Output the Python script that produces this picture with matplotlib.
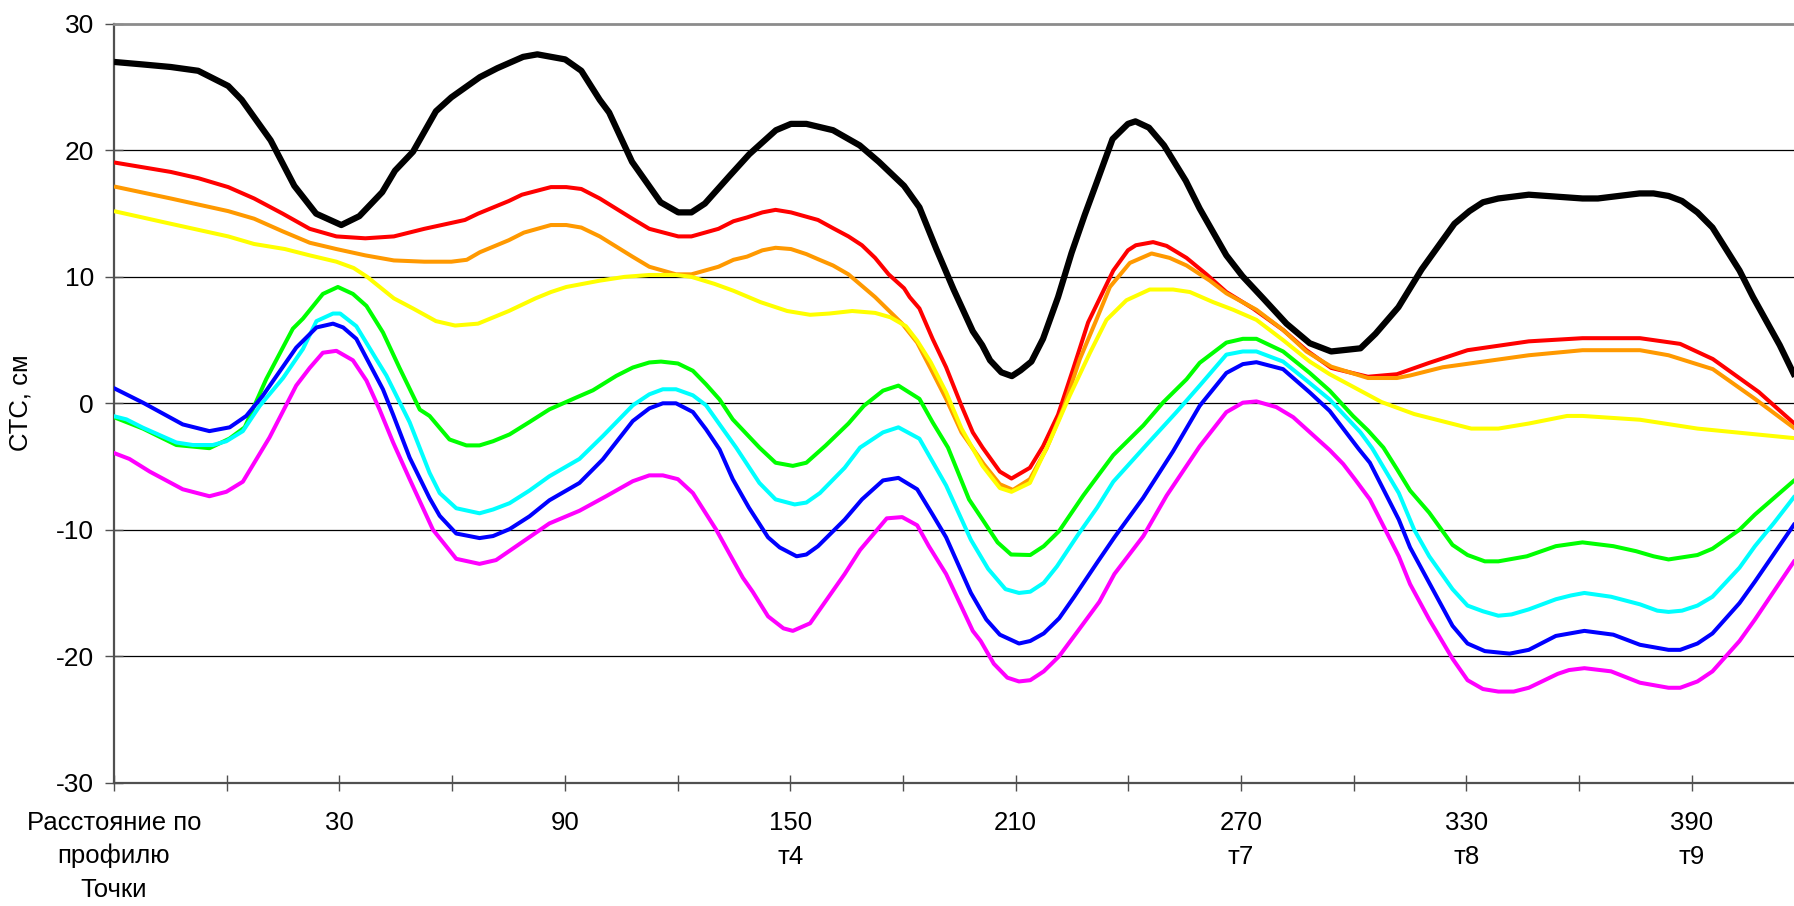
import matplotlib
matplotlib.use("Agg")
import matplotlib.pyplot as plt
from matplotlib.transforms import blended_transform_factory

plt.rcParams['font.family'] = ['Liberation Sans', 'DejaVu Sans']

# ---- data: (distance, CTS value) ----
black = [(-30,27.0),(-22.3,26.8),(-14.9,26.6),(-7.6,26.3),(0.4,25.1),(4.0,24.0),(11.7,20.8),(18.0,17.2),(23.8,15.0),(30.5,14.1),(35.3,14.8),(41.4,16.7),(44.8,18.4),(49.6,19.9),(55.7,23.1),(59.8,24.2),(67.4,25.8),(72.0,26.5),(78.9,27.4),(82.7,27.6),(90.1,27.2),(94.4,26.3),(99.3,24.0),(101.8,23.0),(107.9,19.1),(115.5,15.9),(120.2,15.1),(123.7,15.1),(127.3,15.8),(133.9,18.0),(139.1,19.7),(146.2,21.6),(150.2,22.1),(154.3,22.1),(161.4,21.6),(168.5,20.4),(173.6,19.1),(180.3,17.2),(184.4,15.5),(188.9,12.2),(193.5,9.0),(198.6,5.7),(201.1,4.6),(203.2,3.4),(206.2,2.45),(209.0,2.15),(211.3,2.6),(214.2,3.3),(217.3,5.1),(221.3,8.4),(224.9,11.9),(228.4,14.9),(231.5,17.4),(235.8,20.9),(239.9,22.1),(241.9,22.3),(245.5,21.8),(249.5,20.4),(255.3,17.6),(259.0,15.4),(266.1,11.7),(270.4,10.05),(275.9,8.3),(282.1,6.3),(288.3,4.75),(294.0,4.1),(301.8,4.35),(305.8,5.5),(311.9,7.6),(318.1,10.6),(326.8,14.2),(330.8,15.2),(334.4,15.9),(338.5,16.2),(346.6,16.5),(360.9,16.2),(365.0,16.2),(376.1,16.6),(379.8,16.6),(383.8,16.4),(387.4,16.0),(391.5,15.1),(395.5,13.9),(402.7,10.5),(406.3,8.4),(413.4,4.6),(418.8,1.3)]

red = [(-30,19.05),(-14.9,18.3),(-7.5,17.8),(0.4,17.1),(7.3,16.2),(14.9,15.0),(22.1,13.8),(29.2,13.2),(36.9,13.05),(44.5,13.2),(52.6,13.8),(63.4,14.5),(66.9,15.0),(75.1,16.0),(78.6,16.5),(86.3,17.1),(90.4,17.1),(94.4,16.95),(99.3,16.2),(108,14.6),(112.5,13.8),(120.2,13.2),(123.7,13.2),(130.9,13.8),(134.9,14.4),(138.5,14.7),(142.6,15.1),(146.1,15.3),(150.2,15.1),(157.4,14.5),(161.4,13.85),(165.5,13.2),(169.1,12.5),(172.6,11.5),(176.2,10.2),(180.3,9.1),(181.8,8.4),(184.4,7.5),(187.9,5.1),(191.5,2.85),(195.6,-0.2),(198.6,-2.3),(201.2,-3.5),(205.8,-5.4),(208.9,-5.95),(213.8,-5.1),(217.3,-3.4),(221.3,-0.9),(225.3,2.7),(229.3,6.4),(232.4,8.3),(236,10.5),(239.9,12.1),(242,12.5),(246.6,12.75),(250.2,12.45),(255.5,11.5),(260.8,10.2),(266.1,8.8),(273.2,7.5),(281.2,5.8),(287.4,4.2),(294,2.8),(303.8,2.1),(311.5,2.3),(320.1,3.2),(330.3,4.2),(346.6,4.9),(360.9,5.15),(376.2,5.15),(386.9,4.7),(395.6,3.5),(407.8,0.9),(418.8,-2.0)]

orange = [(-30,17.15),(-14.9,16.2),(0.4,15.2),(7.3,14.6),(14.9,13.6),(22.1,12.7),(29.2,12.2),(36.9,11.7),(44.5,11.3),(52.6,11.2),(59.8,11.2),(63.9,11.35),(67.4,11.95),(75.1,12.9),(79.1,13.5),(86.3,14.1),(90.4,14.1),(94.4,13.9),(99.3,13.2),(108,11.6),(112.5,10.8),(119.6,10.2),(123.7,10.2),(130.9,10.8),(134.9,11.35),(138.5,11.6),(142.6,12.1),(146.1,12.3),(150.2,12.2),(154.3,11.8),(157.4,11.4),(161.4,10.9),(165.5,10.2),(172.6,8.4),(179.8,6.3),(183.8,4.8),(187.9,2.45),(191.5,0.35),(195.6,-2.3),(201.5,-4.8),(205.8,-6.4),(209.3,-6.85),(213.8,-6.0),(218.2,-3.6),(222.7,-0.4),(227.1,3.5),(231.5,6.6),(235.1,9.2),(240.4,11.1),(246.2,11.85),(251,11.5),(255.5,10.9),(261.7,9.7),(266.1,8.7),(274.1,7.4),(281.2,5.8),(287.4,4.1),(294,2.9),(303.8,2.0),(311.5,2.0),(315,2.2),(323.7,2.85),(346.6,3.8),(360.9,4.2),(376.2,4.2),(383.8,3.8),(395.6,2.7),(406.8,0.35),(418.8,-2.3)]

yellow = [(-30,15.2),(-14.9,14.2),(0.4,13.2),(7.3,12.6),(15.5,12.2),(22.1,11.7),(29.2,11.2),(33.8,10.7),(37.4,10.0),(44.5,8.3),(49.6,7.5),(55.7,6.5),(60.8,6.15),(66.9,6.3),(75.1,7.3),(82.2,8.3),(86.3,8.8),(90.4,9.2),(99.3,9.7),(105.9,10.0),(112.5,10.15),(119.6,10.15),(123.7,10.0),(129.8,9.45),(134.9,8.9),(142.1,8.0),(149.2,7.3),(155.3,7.0),(160.4,7.1),(166.5,7.3),(172.6,7.15),(176.7,6.8),(180.8,6.1),(183.8,4.95),(187.4,3.25),(191.5,0.87),(195.6,-2.0),(201.2,-4.95),(205.8,-6.7),(208.9,-7.0),(213.8,-6.3),(219.1,-3.0),(224.4,0.6),(229.8,4.0),(234.2,6.6),(239.5,8.15),(245.7,9.0),(251.9,9.0),(256.4,8.8),(262.6,8.0),(267.9,7.4),(274.1,6.6),(281.2,5.0),(288.3,3.3),(293.6,2.3),(307.4,0.1),(316.1,-0.85),(331.3,-2.0),(338.5,-2.0),(346.6,-1.6),(356.8,-1.0),(360.9,-1.0),(376.2,-1.3),(391.5,-2.0),(418.8,-2.8)]

green = [(-30,-1.1),(-22.3,-2.0),(-13.4,-3.3),(-4.6,-3.55),(0.7,-2.8),(4.8,-1.9),(10.5,1.9),(17.6,5.9),(20.3,6.7),(25.6,8.65),(29.6,9.2),(33.6,8.65),(37.2,7.7),(41.6,5.6),(46,2.8),(51.4,-0.5),(54,-1.0),(59.3,-2.86),(63.8,-3.33),(67.3,-3.33),(70.9,-3.0),(75.3,-2.46),(80.6,-1.48),(85.9,-0.48),(93,0.45),(97.5,1.03),(103.7,2.17),(108.1,2.83),(112.5,3.23),(115.6,3.3),(120.1,3.15),(124.1,2.57),(127.6,1.5),(131.2,0.3),(134.7,-1.27),(141.8,-3.5),(146.1,-4.7),(150.7,-4.95),(154.3,-4.7),(159.4,-3.35),(165.5,-1.6),(169.6,-0.2),(174.7,1.0),(178.8,1.4),(184.4,0.35),(187.9,-1.5),(192,-3.5),(197.6,-7.6),(201.2,-9.2),(205.2,-11.0),(208.8,-11.96),(213.9,-12.0),(217.5,-11.3),(221.6,-10.1),(228,-7.3),(236,-4.1),(244,-1.75),(249.3,0.08),(255.5,1.9),(259,3.2),(266.1,4.8),(270.5,5.1),(274.1,5.1),(281.2,4.1),(288.3,2.4),(293.6,1.0),(299.8,-1.0),(303.8,-2.15),(307.9,-3.5),(311.5,-5.2),(315,-6.9),(320.1,-8.65),(326.3,-11.2),(330.3,-12.0),(334.9,-12.5),(338.5,-12.5),(346.1,-12.1),(353.8,-11.3),(360.9,-11.0),(369.1,-11.3),(375.2,-11.7),(379.8,-12.1),(383.8,-12.35),(391.5,-12.0),(395.5,-11.5),(402.7,-10.0),(406.8,-8.8),(418.8,-5.7)]

cyan = [(-30.3,-1.0),(-26.7,-1.27),(-22.3,-1.93),(-13.4,-3.1),(-9,-3.3),(-3.7,-3.3),(-0.1,-3.0),(4.3,-2.2),(8.8,-0.2),(15,2.0),(20.3,4.3),(23.9,6.5),(28.3,7.1),(30.2,7.1),(34.5,6.1),(39.8,3.5),(42.5,2.2),(48.7,-1.5),(54,-5.5),(56.7,-7.1),(61.1,-8.3),(67.3,-8.7),(70.9,-8.4),(75.3,-7.9),(80.6,-6.9),(85.9,-5.77),(93.9,-4.4),(100.1,-2.6),(108.1,-0.16),(112.5,0.71),(116.1,1.11),(119.6,1.11),(124.1,0.63),(127.6,-0.16),(131.2,-1.67),(135.6,-3.5),(141.8,-6.3),(146.1,-7.6),(151.2,-8.0),(154.3,-7.85),(157.9,-7.1),(164.5,-5.1),(168.6,-3.5),(174.7,-2.3),(178.8,-1.9),(184.4,-2.8),(191.5,-6.5),(198.1,-10.8),(202.7,-13.1),(207.3,-14.7),(210.9,-15.0),(213.9,-14.9),(217.5,-14.2),(221,-12.9),(226.6,-10.4),(231.7,-8.25),(236,-6.2),(244.8,-3.3),(252.8,-0.7),(259,1.4),(266.1,3.85),(270.5,4.1),(274.1,4.1),(281.2,3.3),(288.3,1.6),(293.6,0.3),(301.8,-2.3),(304.9,-3.55),(312,-7.1),(316.1,-10.0),(320.1,-12.1),(326.3,-14.7),(330.3,-16.0),(334.4,-16.45),(338.5,-16.8),(342,-16.7),(346.6,-16.3),(353.8,-15.5),(357.8,-15.2),(361.4,-15.0),(368.5,-15.3),(376.2,-15.9),(380.8,-16.4),(383.8,-16.5),(387.4,-16.4),(391.5,-16.0),(395.5,-15.3),(402.7,-13.0),(406.8,-11.3),(411.9,-9.45),(418.8,-6.8)]

blue = [(-30.3,1.24),(-22.3,0.05),(-11.7,-1.67),(-4.6,-2.2),(0.8,-1.9),(5.2,-1.0),(9.6,0.6),(18.5,4.4),(23.9,6.0),(28.3,6.3),(31,6.0),(34.5,5.1),(41.6,1.1),(44.3,-0.9),(48.7,-4.3),(54,-7.5),(56.7,-8.9),(61.1,-10.3),(67.3,-10.66),(70.9,-10.5),(75.3,-9.95),(80.6,-8.94),(85.9,-7.67),(93.9,-6.3),(100.1,-4.44),(108.1,-1.4),(112.5,-0.4),(116.1,0.0),(119.6,0.0),(124.1,-0.69),(127.6,-2.06),(131.2,-3.65),(134.7,-6.0),(139,-8.25),(144.1,-10.6),(147.2,-11.4),(151.7,-12.1),(154.3,-11.96),(157.4,-11.3),(164.5,-9.2),(169.1,-7.6),(174.7,-6.1),(178.8,-5.9),(183.8,-6.8),(187.9,-8.8),(191.5,-10.6),(198.1,-15.0),(202.2,-17.1),(205.8,-18.3),(210.9,-19.0),(213.9,-18.8),(217.5,-18.2),(221.6,-17.0),(225.6,-15.3),(231.7,-12.6),(236.3,-10.6),(243.9,-7.5),(251.9,-3.8),(259,-0.2),(266.1,2.4),(270.5,3.1),(274.1,3.25),(281.2,2.7),(288.3,0.86),(293.6,-0.6),(301.3,-3.6),(304.3,-4.7),(312,-9.2),(315,-11.4),(320.1,-14.2),(326.3,-17.6),(330.3,-19.0),(334.9,-19.6),(341.5,-19.8),(346.6,-19.5),(353.8,-18.4),(361.4,-18.0),(369.1,-18.3),(376.2,-19.1),(383.8,-19.5),(386.9,-19.5),(391.5,-19.0),(395.5,-18.2),(402.7,-15.8),(406.8,-14.1),(418.8,-8.9)]

magenta = [(-30.3,-3.9),(-25.9,-4.4),(-20.5,-5.4),(-11.7,-6.8),(-4.6,-7.35),(-0.1,-7.0),(4.3,-6.2),(11.4,-2.7),(18.5,1.4),(22.1,2.8),(25.6,4.0),(29.2,4.15),(33.6,3.4),(37.2,1.8),(40.7,-0.5),(44.3,-3.1),(48.7,-6.0),(54.9,-10.0),(61.1,-12.3),(67.3,-12.7),(71.7,-12.4),(77.1,-11.3),(85.9,-9.5),(93.9,-8.5),(101,-7.35),(108.1,-6.16),(112.5,-5.7),(116.1,-5.7),(120.1,-6.0),(124.1,-7.1),(130.3,-10.0),(134.4,-12.2),(137.4,-13.8),(140,-14.9),(144.1,-16.85),(148.2,-17.8),(150.7,-18.0),(155.3,-17.4),(164.5,-13.5),(168.6,-11.6),(175.7,-9.1),(179.8,-9.0),(183.8,-9.65),(186.9,-11.3),(191.5,-13.5),(198.6,-18.0),(200.7,-18.8),(204.2,-20.6),(207.8,-21.7),(210.9,-22.0),(213.9,-21.9),(217.5,-21.2),(221.6,-20.0),(226.6,-18.0),(232.3,-15.7),(236.3,-13.5),(244,-10.5),(250.2,-7.3),(259,-3.4),(266.1,-0.7),(270.5,0.05),(274.1,0.15),(279.4,-0.3),(283.9,-1.1),(293.6,-3.7),(297.2,-4.8),(300.3,-6.0),(304.3,-7.6),(307.9,-9.7),(312,-12.1),(315,-14.3),(320.1,-17.1),(326.3,-20.2),(330.3,-21.9),(334.4,-22.6),(338.5,-22.8),(342.6,-22.8),(346.6,-22.5),(354.3,-21.4),(357.3,-21.1),(361.4,-20.95),(368.5,-21.2),(376.2,-22.1),(383.8,-22.5),(386.9,-22.5),(391.5,-22.0),(395.5,-21.2),(402.7,-18.8),(406.8,-17.1),(418.8,-11.8)]

series = [black, red, orange, yellow, green, cyan, blue, magenta]
colors = ['#000000', '#FF0000', '#FF9900', '#FFFF00', '#00FF00', '#00FFFF', '#0000FF', '#FF00FF']
widths = [4.5, 2.9, 2.9, 2.9, 2.9, 2.9, 2.9, 2.9]

x_ticks = list(range(-30, 391, 30))
label_row1 = {30: '30', 90: '90', 150: '150', 210: '210', 270: '270', 330: '330', 390: '390'}
label_row2 = {150: 'т4', 270: 'т7', 330: 'т8', 390: 'т9'}
y_ticks = [-30, -20, -10, 0, 10, 20, 30]
y_title = 'СТС, см'
x_header = ['Расстояние по', 'профилю', 'Точки']

# ---- figure ----
W, H = 1794, 906
fig = plt.figure(figsize=(W / 100, H / 100), dpi=100)
ax = fig.add_axes([114 / W, 1 - 782.6 / H, (W - 114) / W, (782.6 - 24) / H])
ax.set_xlim(-30, 417.2)
ax.set_ylim(-30, 30)

for yv in y_ticks[1:-1]:
    ax.axhline(yv, color='black', lw=0.9, zorder=1)

for pts, c, w in zip(series, colors, widths):
    xs, ys = zip(*pts)
    ax.plot(xs, ys, color=c, lw=w, solid_joinstyle='round', solid_capstyle='butt', zorder=3)

ax.spines['right'].set_visible(False)
ax.spines['top'].set_color('#8c8c8c')
ax.spines['top'].set_linewidth(2.0)
ax.spines['left'].set_color('#505050')
ax.spines['left'].set_linewidth(1.6)
ax.spines['bottom'].set_color('#505050')
ax.spines['bottom'].set_linewidth(1.6)

ax.set_yticks(y_ticks)
ax.set_yticklabels([str(v) for v in y_ticks])
ax.tick_params(axis='y', direction='inout', length=13, width=1, color='#505050',
               labelsize=19, pad=8)
ax.set_xticks(x_ticks)
ax.set_xticklabels([''] * len(x_ticks))
ax.tick_params(axis='x', direction='inout', length=11.5, width=1, color='#505050')

tr = blended_transform_factory(ax.transData, fig.transFigure)
row_base = [1 - 830 / H, 1 - 863.5 / H, 1 - 897 / H]
fs = 18.5
for xv, t in label_row1.items():
    ax.text(xv, row_base[0], t, transform=tr, ha='center', va='baseline', fontsize=fs)
for xv, t in label_row2.items():
    ax.text(xv, row_base[1], t, transform=tr, ha='center', va='baseline', fontsize=fs)
for i, t in enumerate(x_header):
    ax.text(-30, row_base[i], t, transform=tr, ha='center', va='baseline', fontsize=fs)

fig.text(21 / W, 1 - 403 / H, y_title, rotation=90, ha='center', va='center', fontsize=18.5)

fig.savefig('out.png', dpi=100)
